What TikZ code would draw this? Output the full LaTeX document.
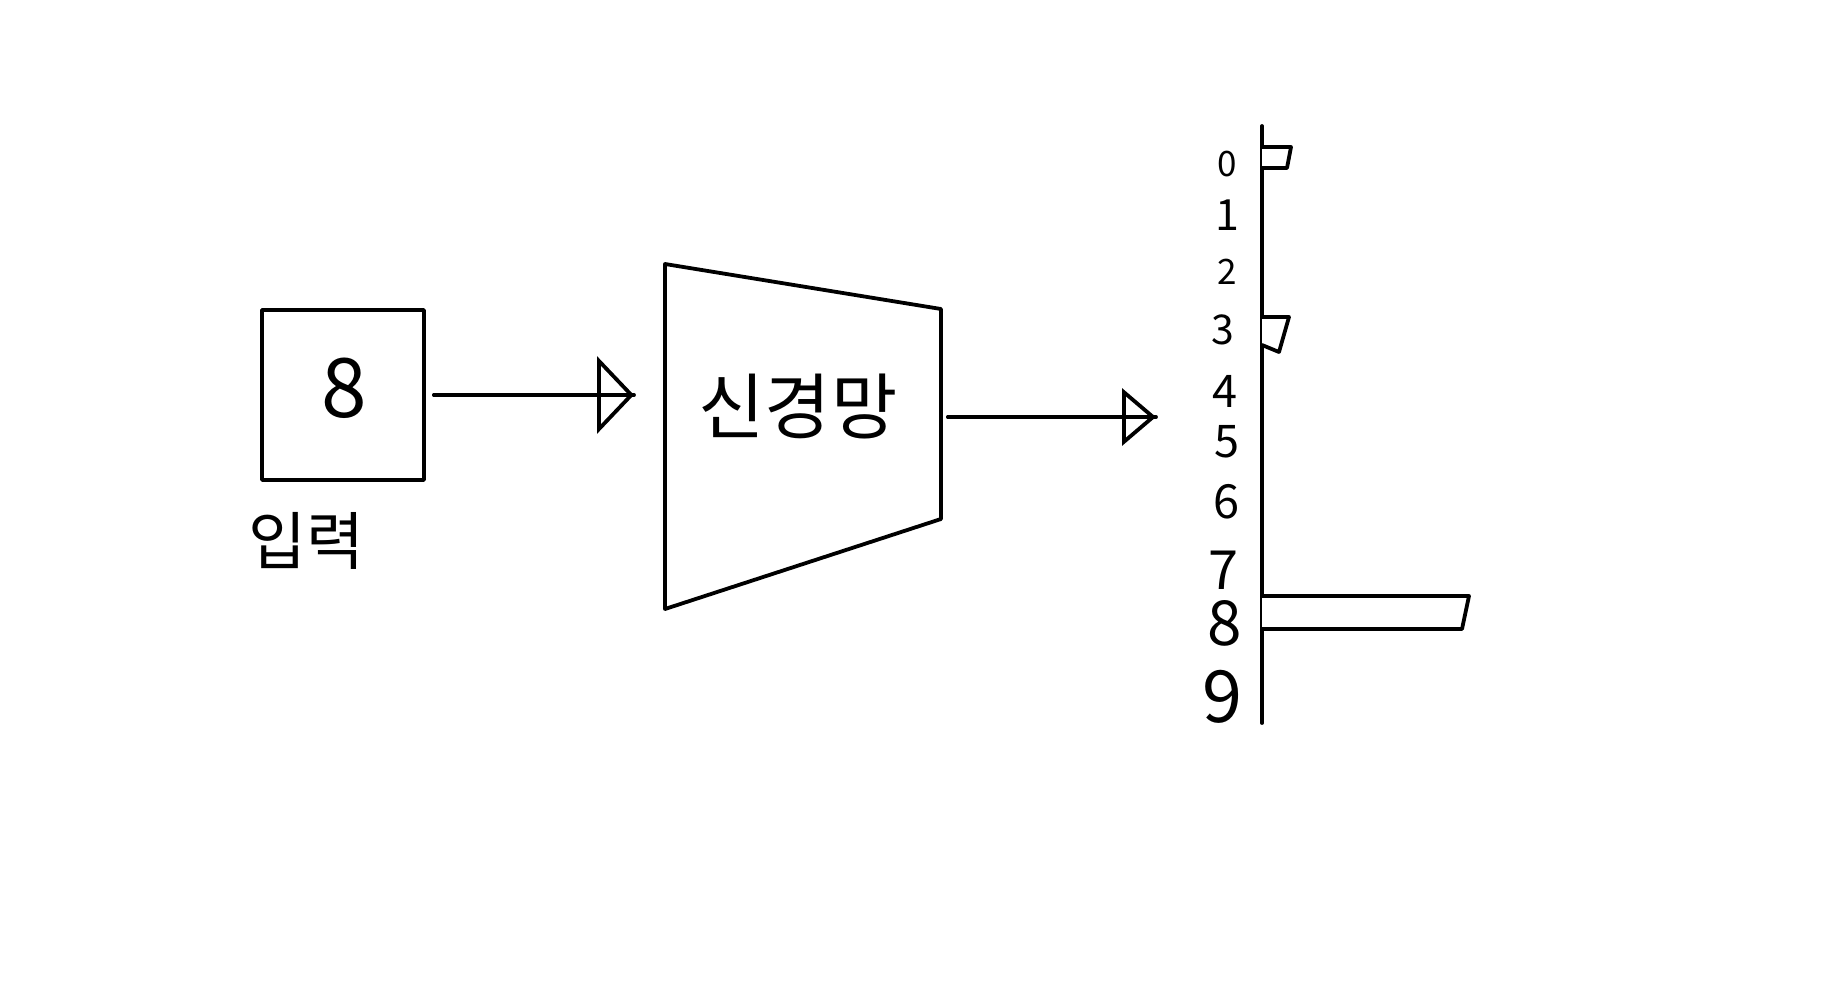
\documentclass[tikz,border=0pt]{standalone}
\usepackage{fontspec}
\setmainfont{Noto Sans CJK KR}
\usetikzlibrary{arrows.meta}
\begin{document}
\begin{tikzpicture}[x=1pt,y=-1pt,
  line width=3.8pt, line cap=round, line join=round,
  txt/.style={inner sep=0pt, font=\fontsize{#1}{#1}\selectfont},
  bighead/.style={-{Triangle[open,length=37pt,width=77pt,line width=3.8pt]}},
  smallhead/.style={-{Triangle[open,length=34pt,width=57pt,line width=3.8pt]}},
  bar/.style={draw, fill=white}]
\useasboundingbox (0,0) rectangle (1845,999);

% input box
\node[draw, minimum width=162pt, minimum height=170pt, inner sep=0pt, outer sep=0pt] (input) at (343,395) {};
\node[txt=82] (eight) at (344,388) {8};
\node[txt=63] (inlabel) at (306,541) {입력};

% neural network trapezoid
\draw (665,264) coordinate (tl) -- (941,309) coordinate (tr)
  -- (941,519) coordinate (br) -- (665,609) coordinate (bl) -- cycle;
\coordinate (nnIn) at (665,395);
\coordinate (nnOut) at (941,417);
\node[txt=72] (nnlabel) at (798,406) {신경망};

% arrow 1
\draw ([xshift=10pt]input.east) -- ([xshift=-31pt]nnIn);
\draw[bighead] ([xshift=10pt]input.east) -- ([xshift=-31pt]nnIn);

% arrow 2
\coordinate (outTip) at (1156,417);
\draw ([xshift=7pt]nnOut) -- (outTip);
\draw[smallhead] ([xshift=7pt]nnOut) -- (outTip);

% output axis
\coordinate (axTop) at (1262,126);
\coordinate (axBot) at (1262,723);
\draw (axTop) -- (axBot);

% bars
\draw[bar] (1262,147) -- (1291,147) -- (1287,168) -- (1262,168);
\draw[bar] (1262,317) -- (1289,317) -- (1279,352) -- (1262,345);
\draw[bar] (1262,596) -- (1469,596) -- (1462,629) -- (1262,629);

% digit labels
\node[txt=35] (d0) at (1227,164) {0};
\node[txt=43] (d1) at (1227,215) {1};
\node[txt=35] (d2) at (1227,272) {2};
\node[txt=41] (d3) at (1223,330) {3};
\node[txt=45] (d4) at (1225,391) {4};
\node[txt=45] (d5) at (1227,442) {5};
\node[txt=47] (d6) at (1227,502) {6};
\node[txt=54] (d7) at (1223,570) {7};
\node[txt=62] (d8) at (1225,623) {8};
\node[txt=72] (d9) at (1222,697) {9};
\end{tikzpicture}
\end{document}
